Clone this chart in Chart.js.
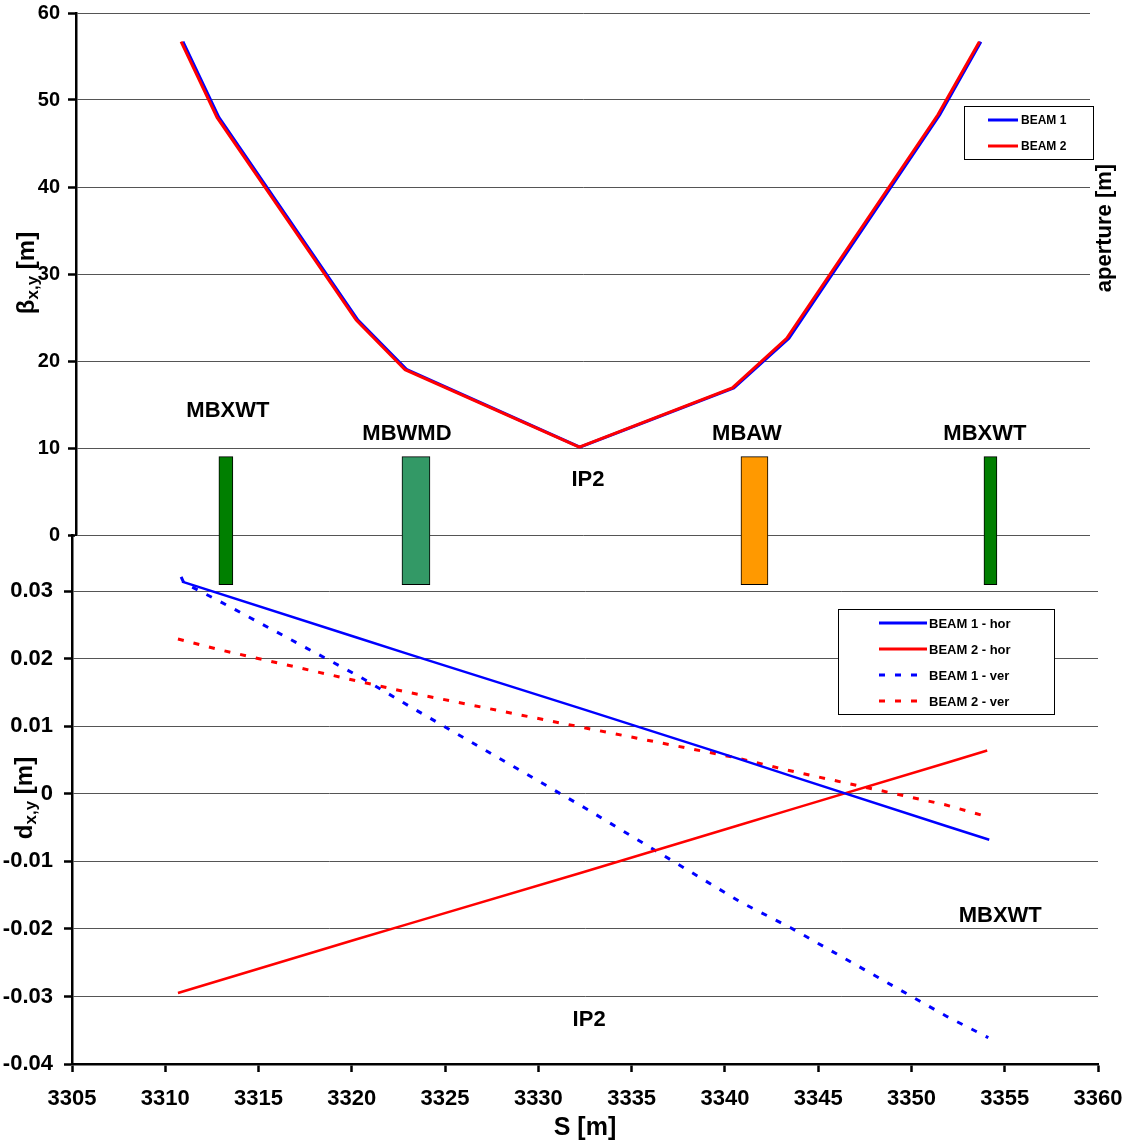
<!DOCTYPE html>
<html>
<head>
<meta charset="utf-8">
<script src="https://cdn.jsdelivr.net/npm/chart.js@4.4.1/dist/chart.umd.min.js"></script>
<style>
  html, body { margin: 0; padding: 0; background: #fff; }
  #wrap { position: relative; width: 1124px; height: 1143px; }
  #wrap canvas { position: absolute; left: 0; top: 0; }
</style>
</head>
<body>
<div id="wrap">
  <canvas id="dispChart" width="1124" height="1143"></canvas>
  <canvas id="betaChart" width="1124" height="610"></canvas>
</div>
<script>
// top panel: beta functions around IP2
const beam1S    = [3310.8, 3312.75, 3320.29, 3322.95, 3332.33, 3340.68, 3343.67, 3351.85, 3354.08];
const beam1Beta = [56.7, 48.0, 24.7, 19.0, 10.1, 16.9, 22.6, 48.3, 56.7];
const beam2S    = [3310.7, 3312.65, 3320.2, 3322.85, 3332.3, 3340.6, 3343.55, 3351.75, 3354.0];
const beam2Beta = [56.7, 48.0, 24.7, 19.0, 10.1, 16.9, 22.6, 48.3, 56.7];

// magnets (drawn as floating bars in the top panel)
const magnetNames = ['MBXWT', 'MBWMD', 'MBAW', 'MBXWT'];
const magnetS     = [3313.13, 3323.44, 3341.8, 3354.6];
const magnetRange = [-5.7, 9];

// bottom panel: dispersion
const b1hS = [3310.9, 3320.3, 3323.0, 3332.3, 3340.7, 3343.7, 3351.9, 3354.17];
const b1hD = [0.0314, 0.0231, 0.0207, 0.0126, 0.0052, 0.0025, -0.0048, -0.0068];
const b2hS = [3310.68, 3320.3, 3323.0, 3332.3, 3340.7, 3343.7, 3351.9, 3354.06];
const b2hD = [-0.0295, -0.0215, -0.0193, -0.0117, -0.0047, -0.0022, 0.0046, 0.0064];
const b1vS = [3310.85, 3311.0, 3312.77, 3320.44, 3323.12, 3332.5, 3340.82, 3343.5, 3351.92, 3354.12];
const b1vD = [0.0321, 0.0312, 0.0287, 0.0173, 0.0129, -0.0021, -0.0160, -0.0198, -0.0330, -0.0361];
const b2vS = [3310.68, 3312.94, 3320.44, 3322.86, 3332.4, 3340.66, 3343.5, 3351.76, 3354.06];
const b2vD = [0.0229, 0.0213, 0.0166, 0.0151, 0.0098, 0.0053, 0.0034, -0.0016, -0.0034];

// text notes placed in data coordinates
const topNoteText = ['MBXWT', 'MBWMD', 'IP2', 'MBAW', 'MBXWT'];
const topNoteS    = [3313.24, 3322.95, 3332.77, 3341.39, 3354.3];
const topNoteV    = [14.25, 11.6, 6.3, 11.6, 11.6];
const botNoteText = ['MBXWT', 'IP2'];
const botNoteS    = [3354.76, 3332.72];
const botNoteV    = [-0.0181, -0.0335];

const FONT = "'Liberation Sans', Arial, sans-serif";
const BLUE = '#0000ff';
const RED = '#ff0000';
const magnetColor = { MBXWT: '#007f00', MBWMD: '#339966', MBAW: '#ff9900' };
const magnetWidth = [14, 28, 27, 13];

const pairs = (xs, ys) => xs.map((x, i) => ({ x: x, y: ys[i] }));

// legend in a box at a fixed place
const boxLegend = {
    id: 'boxLegend',
    afterDraw(chart, args, o) {
        const ctx = chart.ctx;
        const items = chart.data.datasets.filter(d => d.inLegend);
        ctx.save();
        ctx.fillStyle = '#fff';
        ctx.fillRect(o.x, o.y, o.w, o.h);
        ctx.strokeStyle = '#000';
        ctx.lineWidth = 1;
        ctx.strokeRect(o.x + 0.5, o.y + 0.5, o.w, o.h);
        items.forEach((d, i) => {
            const y = o.y + o.first + i * o.step;
            ctx.strokeStyle = d.borderColor;
            ctx.lineWidth = 3;
            ctx.setLineDash(d.borderDash || []);
            ctx.beginPath();
            ctx.moveTo(o.x + o.lineFrom, y);
            ctx.lineTo(o.x + o.lineTo, y);
            ctx.stroke();
            ctx.setLineDash([]);
            ctx.fillStyle = '#000';
            ctx.font = 'bold ' + o.size + 'px ' + FONT;
            ctx.textBaseline = 'middle';
            ctx.fillText(d.label, o.x + o.textAt, y + 1);
        });
        ctx.restore();
    }
};

// labels such as MBXWT / IP2
const notes = {
    id: 'notes',
    afterDraw(chart, args, o) {
        const { ctx, scales } = chart;
        ctx.save();
        ctx.font = 'bold ' + o.size + 'px ' + FONT;
        ctx.fillStyle = '#000';
        ctx.textAlign = 'center';
        ctx.textBaseline = 'middle';
        o.text.forEach((t, i) => {
            ctx.fillText(t, scales.x.getPixelForValue(o.s[i]), scales.y.getPixelForValue(o.v[i]));
        });
        ctx.restore();
    }
};

// rotated axis titles with subscripts
const sideTitles = {
    id: 'sideTitles',
    afterDraw(chart, args, o) {
        const ctx = chart.ctx;
        o.items.forEach(it => {
            ctx.save();
            ctx.translate(it.x, it.y);
            ctx.rotate(-Math.PI / 2);
            ctx.fillStyle = '#000';
            ctx.textBaseline = 'middle';
            let total = 0;
            it.parts.forEach(p => {
                ctx.font = 'bold ' + p.size + 'px ' + FONT;
                total += ctx.measureText(p.t).width;
            });
            let cx = -total / 2;
            it.parts.forEach(p => {
                ctx.font = 'bold ' + p.size + 'px ' + FONT;
                ctx.fillText(p.t, cx, p.dy || 0);
                cx += ctx.measureText(p.t).width;
            });
            ctx.restore();
        });
    }
};

function tickFmt(v) {
    const r = Math.round(v * 100) / 100;
    return r === 0 ? '0' : r.toFixed(2);
}

// ---------- bottom panel ----------
new Chart(document.getElementById('dispChart'), {
    type: 'line',
    data: {
        datasets: [
            { label: 'BEAM 1 - hor', data: pairs(b1hS, b1hD), borderColor: BLUE, borderWidth: 2.5, inLegend: true },
            { label: 'BEAM 2 - hor', data: pairs(b2hS, b2hD), borderColor: RED, borderWidth: 2.5, inLegend: true },
            { label: 'BEAM 1 - ver', data: pairs(b1vS, b1vD), borderColor: BLUE, borderWidth: 3, borderDash: [6, 10], inLegend: true },
            { label: 'BEAM 2 - ver', data: pairs(b2vS, b2vD), borderColor: RED, borderWidth: 3, borderDash: [6, 10], inLegend: true }
        ]
    },
    options: {
        responsive: false,
        animation: false,
        elements: { point: { radius: 0 }, line: { tension: 0 } },
        layout: { padding: { top: 535, right: 26, left: 0, bottom: 0 } },
        scales: {
            x: {
                type: 'linear', min: 3305, max: 3360,
                ticks: { stepSize: 5, color: '#000', padding: 14, font: { family: FONT, size: 22, weight: 'bold' }, callback: v => String(v) },
                grid: { drawOnChartArea: false, tickLength: 8, tickColor: '#000', tickWidth: 2.5 },
                border: { color: '#000', width: 2.5 },
                title: { display: true, text: 'S [m]', color: '#000', font: { family: FONT, size: 25, weight: 'bold' }, padding: { top: 0, bottom: 0 } },
                afterFit: s => { s.height = 79; s.paddingLeft = 0; s.paddingRight = 0; }
            },
            y: {
                min: -0.04, max: 0.0383,
                afterBuildTicks: s => { s.ticks = s.ticks.filter(t => t.value <= 0.0301); },
                ticks: { stepSize: 0.01, color: '#000', padding: 11, font: { family: FONT, size: 22, weight: 'bold' }, callback: tickFmt },
                grid: { color: '#555', lineWidth: 1, tickLength: 8, tickColor: '#000', tickWidth: 2.5 },
                border: { color: '#000', width: 2.5 },
                afterFit: s => { s.width = 72; s.paddingTop = 0; s.paddingBottom = 0; }
            }
        },
        plugins: {
            legend: { display: false },
            tooltip: { enabled: false },
            boxLegend: { x: 838, y: 609, w: 216, h: 105, first: 14, step: 26, lineFrom: 41, lineTo: 89, textAt: 91, size: 13 },
            notes: { text: botNoteText, s: botNoteS, v: botNoteV, size: 22 },
            sideTitles: { items: [ { x: 25, y: 798, parts: [ { t: 'd', size: 24 }, { t: 'x,y', size: 17, dy: 6 }, { t: ' [m]', size: 24 } ] } ] }
        }
    },
    plugins: [boxLegend, notes, sideTitles]
});

// ---------- top panel ----------
const magnetSets = magnetNames.map((name, i) => ({
    type: 'bar',
    label: name,
    data: [{ x: magnetS[i], y: magnetRange }],
    backgroundColor: magnetColor[name],
    borderColor: '#000',
    borderWidth: 1,
    borderSkipped: false,
    barThickness: magnetWidth[i],
    grouped: false,
    clip: false,
    order: 3
}));

new Chart(document.getElementById('betaChart'), {
    type: 'line',
    data: {
        datasets: [
            { label: 'BEAM 1', data: pairs(beam1S, beam1Beta), borderColor: BLUE, borderWidth: 3, order: 1, inLegend: true },
            { label: 'BEAM 2', data: pairs(beam2S, beam2Beta), borderColor: RED, borderWidth: 3, order: 0, inLegend: true }
        ].concat(magnetSets)
    },
    options: {
        responsive: false,
        animation: false,
        elements: { point: { radius: 0 }, line: { tension: 0 } },
        layout: { padding: { top: 13, right: 34, left: 0, bottom: 75 } },
        scales: {
            x: { type: 'linear', min: 3305, max: 3360, offset: false, display: false },
            y: {
                min: 0, max: 60,
                ticks: { stepSize: 10, color: '#000', padding: 8, font: { family: FONT, size: 20, weight: 'bold' } },
                grid: { color: '#555', lineWidth: 1, tickLength: 8, tickColor: '#000', tickWidth: 2.5 },
                border: { color: '#000', width: 2.5 },
                afterFit: s => { s.width = 76; s.paddingTop = 0; s.paddingBottom = 0; }
            }
        },
        plugins: {
            legend: { display: false },
            tooltip: { enabled: false },
            boxLegend: { x: 964, y: 106, w: 129, h: 53, first: 14, step: 26, lineFrom: 24, lineTo: 54, textAt: 57, size: 12 },
            notes: { text: topNoteText, s: topNoteS, v: topNoteV, size: 22 },
            sideTitles: { items: [
                { x: 27, y: 273, parts: [ { t: 'β', size: 24 }, { t: 'x,y', size: 17, dy: 6 }, { t: ' [m]', size: 24 } ] },
                { x: 1105, y: 228, parts: [ { t: 'aperture [m]', size: 22 } ] }
            ] }
        }
    },
    plugins: [boxLegend, notes, sideTitles]
});
</script>
</body>
</html>
